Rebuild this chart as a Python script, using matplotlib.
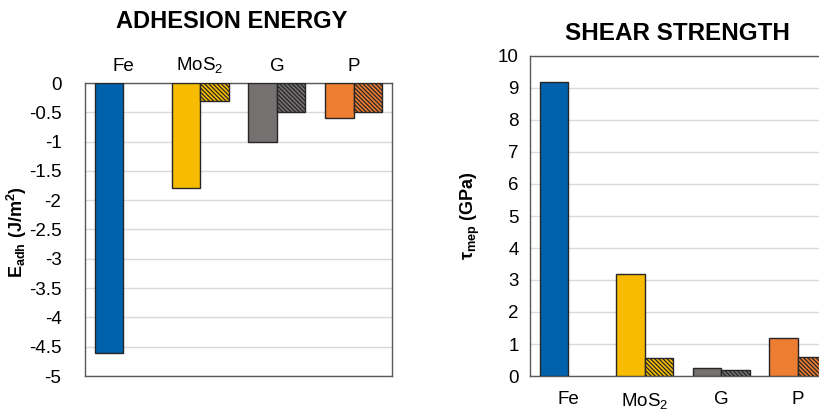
import numpy as np
import matplotlib
matplotlib.use('Agg')
import matplotlib.pyplot as plt

plt.rcParams['font.family'] = ['Liberation Sans', 'DejaVu Sans']
plt.rcParams['mathtext.fontset'] = 'custom'
plt.rcParams['mathtext.rm'] = 'Liberation Sans'
plt.rcParams['mathtext.it'] = 'Liberation Sans:italic'
plt.rcParams['mathtext.bf'] = 'Liberation Sans:bold'
plt.rcParams['axes.unicode_minus'] = False
plt.rcParams['hatch.linewidth'] = 0.9

categories = ['Fe', 'MoS$_2$', 'G', 'P']
colors = ['#0062AC', '#F7BC00', '#767171', '#ED7D31']

# adhesion energy (J/m2): plain bars and hatched bars
adh_solid = [-4.6, -1.8, -1.0, -0.6]
adh_hatch = [np.nan, -0.3, -0.5, -0.5]

# shear strength (GPa)
shear_solid = [9.2, 3.2, 0.25, 1.2]
shear_hatch = [np.nan, 0.55, 0.18, 0.6]

W, H = 819, 411
fig = plt.figure(figsize=(W / 100, H / 100), dpi=100)

ax1 = fig.add_axes([85 / W, 1 - 376 / H, 307 / W, 293 / H])
ax2 = fig.add_axes([530 / W, 1 - 376 / H, 306 / W, 320 / H])

x = np.arange(len(categories))
bw = 0.37
edge = '#262626'


def draw(ax, solid, hatch):
    ax.bar(x - bw / 2, solid, bw, color=colors, edgecolor=edge, linewidth=1, zorder=3)
    ax.bar(x + bw / 2, hatch, bw, color=colors, edgecolor=edge, linewidth=1,
           hatch='\\\\\\\\\\\\\\\\', zorder=3)
    ax.set_xlim(-0.5, len(categories) - 0.5)
    ax.set_xticks(x)
    ax.set_xticklabels(categories, fontsize=13.5)
    ax.yaxis.grid(True, color='#d9d9d9', linewidth=1, zorder=0)
    ax.set_axisbelow(True)
    for s in ax.spines.values():
        s.set_color('#595959')
        s.set_linewidth(1)
    ax.tick_params(axis='both', length=0, labelsize=13.5)


draw(ax1, adh_solid, adh_hatch)
ax1.set_ylim(-5, 0)
yt = np.arange(-5, 0.01, 0.5)
ax1.set_yticks(yt)
ax1.set_yticklabels(['%g' % v for v in yt])
ax1.xaxis.tick_top()
ax1.tick_params(axis='x', pad=5.5)
ax1.tick_params(axis='y', pad=17)
ax1.set_ylabel(r'E$_{\mathbf{adh}}$ (J/m$^{\mathbf{2}}$)', fontsize=13,
               fontweight='bold')
ax1.yaxis.set_label_coords(-0.182, 0.49)

draw(ax2, shear_solid, shear_hatch)
ax2.set_ylim(0, 10)
ax2.set_yticks(range(0, 11))
ax2.tick_params(axis='x', pad=11)
ax2.tick_params(axis='y', pad=8)
ax2.set_ylabel(r'τ$_{\mathbf{mep}}$ (GPa)', fontsize=13, fontweight='bold')
ax2.yaxis.set_label_coords(-0.157, 0.5)

fig.text(232 / W, 1 - 22 / H, 'ADHESION ENERGY', ha='center', va='center',
         fontsize=17, fontweight='bold')
fig.text(677 / W, 1 - 33 / H, 'SHEAR STRENGTH', ha='center', va='center',
         fontsize=17.5, fontweight='bold')

fig.savefig('out.png', dpi=100)
